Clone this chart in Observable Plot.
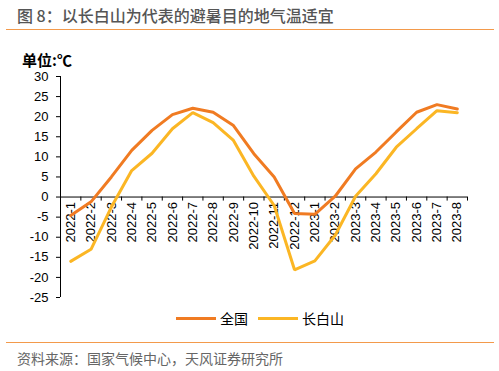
<!DOCTYPE html>
<html>
<head>
<meta charset="utf-8">
<script src="https://cdn.jsdelivr.net/npm/d3@7"></script>
<script src="https://cdn.jsdelivr.net/npm/@observablehq/plot@0.6"></script>
<style>
  html, body { margin: 0; padding: 0; background: #fff; }
  body { width: 499px; height: 371px; position: relative; overflow: hidden; font-family: "Noto Sans CJK SC", "Liberation Sans", sans-serif; }
  .abs { position: absolute; white-space: nowrap; }
  #title { left: 17px; top: 4px; font-size: 16px; line-height: 22px; color: #555; font-weight: 500; }
  .rule { left: 6px; width: 488px; height: 0; border-top: 1.5px solid #F39A4B; }
  #unit { left: 22px; top: 51px; font-size: 15px; line-height: 17px; color: #000; font-weight: bold; }
  #chart { left: 0; top: 70px; }
  .lg-line { height: 3px; width: 40px; }
  .lg-text { font-size: 14px; line-height: 20px; color: #000; }
  #source { left: 17px; top: 348px; font-size: 14px; line-height: 20px; color: #666; }
</style>
</head>
<body>
<div id="title" class="abs">图 8：以长白山为代表的避暑目的地气温适宜</div>
<div class="abs rule" style="top:29px"></div>
<div id="unit" class="abs">单位:℃</div>
<div id="chart" class="abs"></div>
<div class="abs lg-line" style="left:176px;top:317px;background:#F07B22"></div>
<div class="abs lg-text" style="left:220px;top:308px">全国</div>
<div class="abs lg-line" style="left:258px;top:317px;background:#FBB624"></div>
<div class="abs lg-text" style="left:302px;top:308px">长白山</div>
<div class="abs rule" style="top:342px"></div>
<div id="source" class="abs">资料来源：国家气候中心，天风证券研究所</div>
<script>
const months = ["2022-1","2022-2","2022-3","2022-4","2022-5","2022-6","2022-7","2022-8","2022-9","2022-10","2022-11","2022-12","2023-1","2023-2","2023-3","2023-4","2023-5","2023-6","2023-7","2023-8"];
const national = [-4.6, -1.2, 5.0, 11.6, 16.6, 20.5, 22.1, 21.1, 17.8, 10.8, 5.0, -4.1, -4.3, 0.2, 7.0, 11.2, 16.2, 21.1, 23.0, 21.9];
const changbai = [-16.0, -13.0, -2.5, 6.6, 10.9, 17.0, 21.0, 18.5, 14.1, 5.2, -2.1, -18.1, -15.9, -9.5, 0.2, 5.8, 12.4, 17.0, 21.5, 21.0];
const seriesNames = ["全国", "长白山"];
const seriesColors = ["#F07B22", "#FBB624"];
const yTicks = [-25, -20, -15, -10, -5, 0, 5, 10, 15, 20, 25, 30];

const data = [
  ...months.map((m, i) => ({i, month: m, series: seriesNames[0], value: national[i]})),
  ...months.map((m, i) => ({i, month: m, series: seriesNames[1], value: changbai[i]}))
];
const boundaries = d3.range(months.length + 1).map(k => k - 0.5);

const chart = Plot.plot({
  width: 499,
  height: 240,
  marginLeft: 60,
  marginRight: 32,
  marginTop: 6,
  marginBottom: 13,
  style: {fontFamily: "'Liberation Sans', Arial, sans-serif", fontSize: "13px", color: "#000", background: "transparent"},
  x: {type: "linear", domain: [-0.5, months.length - 0.5], axis: null},
  y: {domain: [-25, 30], ticks: yTicks, tickSize: 4, tickPadding: 8, tickFormat: d => String(d), label: null},
  color: {domain: seriesNames, range: seriesColors},
  marks: [
    Plot.ruleX([-0.5], {y1: -25, y2: 30, stroke: "#000", strokeWidth: 1}),
    Plot.ruleY([0], {x1: -0.5, x2: months.length - 0.5, stroke: "#000", strokeWidth: 1}),
    Plot.ruleX(boundaries, {y1: 0, y2: -1, stroke: "#000", strokeWidth: 1}),
    Plot.text(months, {x: (d, i) => i, y: () => 0, text: d => d, rotate: -90, textAnchor: "end", dy: 5, fontSize: 13, fill: "#000"}),
    Plot.line(data, {x: "i", y: "value", stroke: "series", z: "series", strokeWidth: 3, strokeLinejoin: "miter"})
  ]
});
document.getElementById("chart").appendChild(chart);
</script>
</body>
</html>
